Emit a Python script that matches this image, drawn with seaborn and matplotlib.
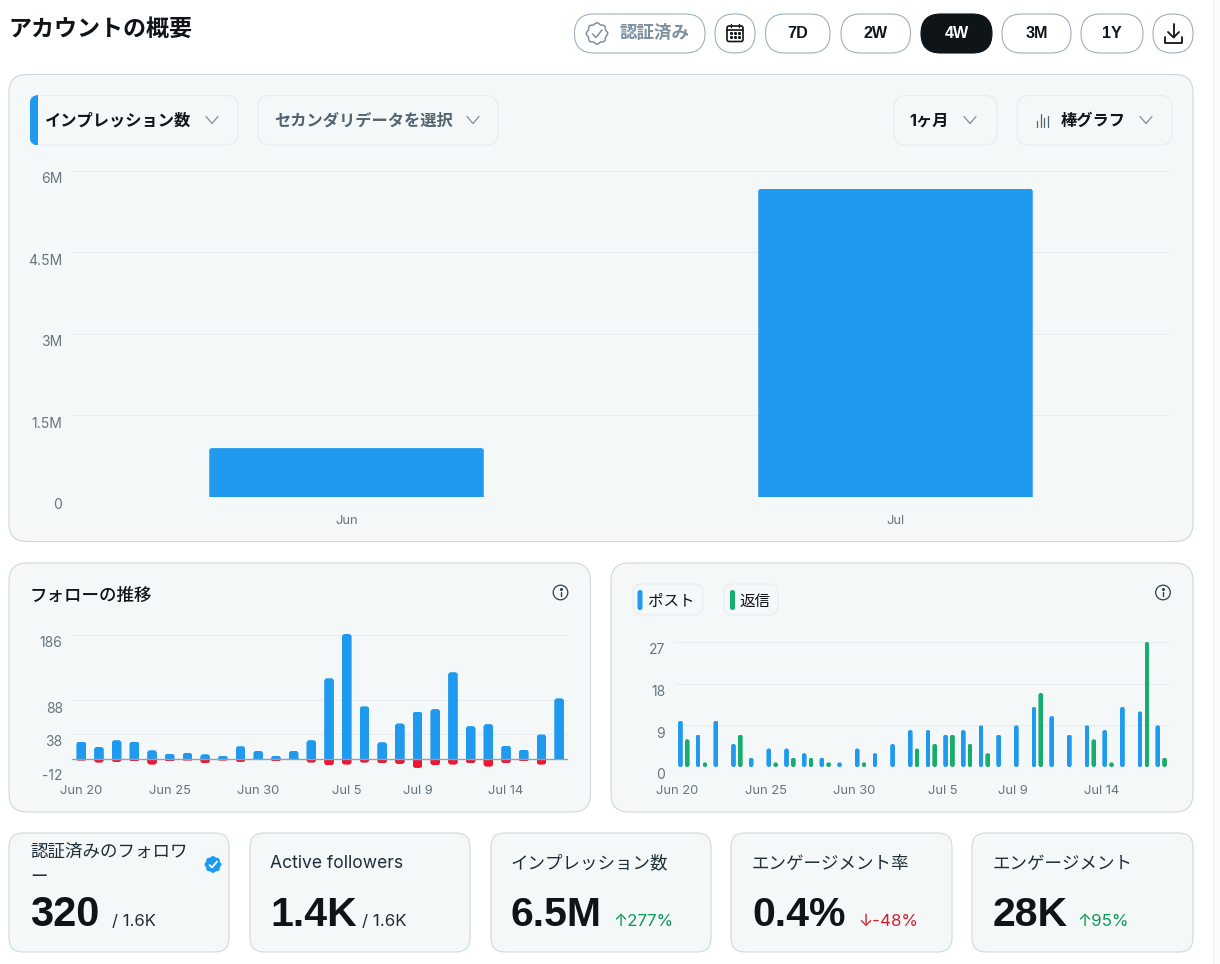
import numpy as np
import pandas as pd
import matplotlib
matplotlib.use("Agg")
import matplotlib.pyplot as plt
from matplotlib.patches import FancyBboxPatch, Circle, Rectangle, Polygon
from matplotlib.path import Path
from matplotlib.transforms import IdentityTransform, ScaledTranslation
import seaborn as sns

# data
months = ["Jun", "Jul"]
impressions = [900000, 5670000]
impression_ticks = [0, 1500000, 3000000, 4500000, 6000000]
impression_labels = ["0", "1.5M", "3M", "4.5M", "6M"]

days = ["Jun 20", "Jun 21", "Jun 22", "Jun 23", "Jun 24", "Jun 25", "Jun 26",
        "Jun 27", "Jun 28", "Jun 29", "Jun 30", "Jul 1", "Jul 2", "Jul 3",
        "Jul 4", "Jul 5", "Jul 6", "Jul 7", "Jul 8", "Jul 9", "Jul 10",
        "Jul 11", "Jul 12", "Jul 13", "Jul 14", "Jul 15", "Jul 16", "Jul 17"]
day_ticks = ["Jun 20", "Jun 25", "Jun 30", "Jul 5", "Jul 9", "Jul 14"]

follows = [26.5, 18.5, 28.5, 26.5, 13.5, 8.5, 9.5, 7.5, 5.5, 19.5, 12.5, 5.5, 12.5, 28.5,
           121, 187, 79, 25.5, 53.5, 71, 75, 130, 49.5, 52.5, 20.5, 14.5, 37, 91]
unfollows = [-2, -5, -4, -3, -8, -3, -2, -6, -2, -4, 0, -3, 0, -5,
             -9, -8, -5, -6, -7, -13, -9, -8, -6, -11, -6, -3, -8, 0]
follow_ticks = [-12, 38, 88, 186]

posts = [10, 7, 10, 5, 2, 4, 4, 3, 2, 1, 4, 3, 5, 8,
         8, 7, 8, 9, 7, 9, 13, 11, 7, 9, 8, 13, 12, 9]
replies = [6, 1, 0, 7, 0, 1, 2, 2, 1, 0, 1, 0, 0, 4,
           5, 7, 5, 3, 0, 0, 16, 0, 0, 6, 1, 0, 27, 2]
post_ticks = [0, 9, 18, 27]

range_buttons = ["7D", "2W", "4W", "3M", "1Y"]
card_titles = ["Active followers", "インプレッション数", "エンゲージメント率", "エンゲージメント"]
card_values = ["1.4K", "6.5M", "0.4%", "28K"]
card_notes = ["/ 1.6K", "↑277%", "↓-48%", "↑95%"]

W, H = 1220, 964
BLUE = "#1f9aef"
GREEN = "#17ad6c"
RED = "#f0162f"
PANEL = "#f5f8f8"
BORDER = "#cfd9de"
SOFT = "#e6ecf0"
INK = "#0f1419"
SLATE = "#536471"
MUTED = "#7b90a0"
TICK = "#66757f"
CJK = ["Inter", "Noto Sans CJK JP", "DejaVu Sans"]
NUM = ["Liberation Sans", "Noto Sans CJK JP", "DejaVu Sans"]

sns.set_theme(style="white")
plt.rcParams["font.family"] = CJK

fig = plt.figure(figsize=(W / 100, H / 100), dpi=100, facecolor="white")
ui = fig.add_axes([0, 0, 1, 1])
ui.set_xlim(0, W)
ui.set_ylim(H, 0)
ui.axis("off")


def box(x0, y0, x1, y1, r, fc=PANEL, ec=BORDER, lw=0.8):
    p = FancyBboxPatch((x0, y0), x1 - x0, y1 - y0, boxstyle=f"round,pad=0,rounding_size={r}",
                       fc=fc, ec=ec, lw=lw)
    ui.add_patch(p)
    return p


def label(x, y, s, size, color=INK, weight="normal", ha="left", family=None):
    ui.text(x, y + 1.5, s, fontsize=size, color=color, fontweight=weight, ha=ha, va="center",
            family=family or CJK)


def chevron(x, y, color="#7f8f9c"):
    ui.plot([x - 6, x, x + 6], [y - 3.5, y + 3.5, y - 3.5], color=color, lw=0.9)


def info(x, y):
    ui.add_patch(Circle((x, y), 7.3, fc="none", ec="#2f3f4d", lw=0.9))
    ui.plot([x, x], [y - 0.5, y + 3.5], color="#2f3f4d", lw=1.0)
    ui.plot([x], [y - 3.2], "o", color="#2f3f4d", ms=1.2)


def chart_axes(x0, y0, x1, y1):
    ax = fig.add_axes([x0 / W, 1 - y1 / H, (x1 - x0) / W, (y1 - y0) / H])
    ax.patch.set_alpha(0)
    return ax


def round_bars(ax, r, both=False):
    # clip the seaborn rectangles so their ends come out rounded
    for bar in ax.patches:
        if not isinstance(bar, Rectangle) or bar.get_height() == 0:
            continue
        x, y = bar.get_xy()
        (x0, y0), (x1, y1) = ax.transData.transform([(x, y), (x + bar.get_width(), y + bar.get_height())])
        s = 1 if y1 > y0 else -1
        rad = min(r, (x1 - x0) / 2, abs(y1 - y0) / (2 if both else 1))
        verts = [(x0, y1 - s * rad), (x0, y1), (x0 + rad, y1), (x1 - rad, y1), (x1, y1), (x1, y1 - s * rad)]
        codes = [Path.MOVETO, Path.CURVE3, Path.CURVE3, Path.LINETO, Path.CURVE3, Path.CURVE3]
        if both:
            verts += [(x1, y0 + s * rad), (x1, y0), (x1 - rad, y0), (x0 + rad, y0), (x0, y0), (x0, y0 + s * rad)]
            codes += [Path.LINETO, Path.CURVE3, Path.CURVE3, Path.LINETO, Path.CURVE3, Path.CURVE3]
        else:
            verts += [(x1, y0), (x0, y0)]
            codes += [Path.LINETO, Path.LINETO]
        verts.append(verts[0])
        codes.append(Path.CLOSEPOLY)
        bar.set_clip_path(Path(verts, codes), IdentityTransform())
        bar.set_clip_box(None)


def style_axis(ax, yticks, ylabels, ysize=10):
    ax.set_yticks(yticks)
    ax.set_yticklabels(ylabels)
    ax.set_xlabel("")
    ax.set_ylabel("")
    ax.grid(axis="y", color=SOFT, lw=0.8)
    ax.grid(axis="x", visible=False)
    ax.set_axisbelow(True)
    ax.tick_params(axis="y", length=0, pad=7, labelsize=ysize, labelcolor=TICK)
    ax.tick_params(axis="x", length=0, pad=13, labelsize=9.3, labelcolor=TICK)
    sns.despine(ax=ax, left=True, bottom=True)
    # tick labels sit just under their grid line
    shift = ScaledTranslation(0, -0.067, fig.dpi_scale_trans)
    for t in ax.get_yticklabels():
        t.set_transform(t.get_transform() + shift)


# scrollbar gutter on the right edge
ui.add_patch(Rectangle((1213, 0), 7, H, fc="#fbfbfb", ec="none"))
ui.plot([1213, 1213], [0, H], color="#f0f0f0", lw=0.7)

# page title and top buttons
label(8, 28, "アカウントの概要", 16.6, weight="bold")

box(574.5, 14, 705, 53, 19.5, fc="white", ec="#9fb0bd")
theta = np.linspace(0, 2 * np.pi, 160)
radius = 10 * (1 + 0.07 * np.cos(8 * theta))
ui.add_patch(Polygon(np.c_[597 + radius * np.cos(theta), 33.5 + radius * np.sin(theta)], fc="none", ec=MUTED, lw=1.1))
ui.plot([592.5, 596, 602], [34, 37.5, 30], color=MUTED, lw=1.1)
label(620, 32, "認証済み", 12.6, color=MUTED, weight="bold")

box(715, 14, 755, 53, 19.5, fc="white", ec="#9fb0bd")
box(727, 26, 743, 41.5, 2, fc="none", ec=INK, lw=1.2)
ui.plot([727, 743], [29.5, 29.5], color=INK, lw=1.2)
ui.plot([731, 731], [24, 27], color=INK, lw=1.0)
ui.plot([739, 739], [24, 27], color=INK, lw=1.0)
for dx in [731, 735, 739]:
    for dy in [33, 37]:
        ui.plot([dx], [dy], "s", color=INK, ms=1.1)

button_edges = [(765.5, 830), (841, 910.5), (921, 992), (1002, 1071), (1081, 1143)]
for name, (b0, b1) in zip(range_buttons, button_edges):
    active = name == "4W"
    box(b0, 14, b1, 53, 19.5, fc=INK if active else "white", ec=INK if active else "#9fb0bd")
    label((b0 + b1) / 2, 32.5, name, 11.6, color="white" if active else INK, weight="bold", ha="center", family=NUM)

box(1153, 14, 1193, 53, 19.5, fc="white", ec="#9fb0bd")
ui.plot([1173.5, 1173.5], [24, 37], color=INK, lw=1.3)
ui.plot([1168, 1173.5, 1179], [32, 37.5, 32], color=INK, lw=1.3)
ui.plot([1165, 1165, 1182, 1182], [37, 43, 43, 37], color=INK, lw=1.3)

# panels
box(9, 74.5, 1193, 541.5, 18)
box(9, 563, 590.5, 812, 18)
box(611, 563, 1193, 812, 18)
card_edges = [(9, 229), (250, 470), (491, 711), (731, 952), (972, 1193)]
for c0, c1 in card_edges:
    box(c0, 833, c1, 952, 14)

# main panel selectors
box(30, 95.5, 238, 145, 12, ec=SOFT)
accent = box(30, 95.5, 60, 145, 9, fc=BLUE, ec=BLUE)
accent.set_clip_path(Rectangle((30, 95), 8, 50, transform=ui.transData))
label(45, 119.5, "インプレッション数", 11.7, weight="bold")
chevron(212, 120)
box(258, 95.5, 498, 145, 12, ec=SOFT)
label(274, 119.5, "セカンダリデータを選択", 11.7, color=SLATE, weight="bold")
chevron(473, 120)
box(894, 95.5, 997, 145, 12, ec=SOFT)
label(909, 119.5, "1ヶ月", 11.7, weight="bold")
chevron(970, 120)
box(1017, 95.5, 1172, 145, 12, ec=SOFT)
for bx, by in zip([1037, 1040.5, 1044, 1047.5], [121, 114, 118, 116]):
    ui.plot([bx, bx], [by, 127], color=SLATE, lw=0.9)
label(1061, 119.5, "棒グラフ", 11.7, weight="bold")
chevron(1146, 120)

# main bar chart
ax1 = chart_axes(72, 171, 1170, 497)
sns.barplot(x=months, y=impressions, color=BLUE, saturation=1, width=0.5, linewidth=0, ax=ax1)
ax1.set_xlim(-0.5, 1.5)
ax1.set_ylim(0, 6000000)
style_axis(ax1, impression_ticks, impression_labels)
round_bars(ax1, 2.5)

# follower chart
label(30, 595, "フォローの推移", 12.6, weight="medium")
info(560.5, 592.5)
ax2 = chart_axes(72.4, 634.7, 568, 767.3)
sns.barplot(x=days, y=follows, color=BLUE, saturation=1, width=0.55, linewidth=0, ax=ax2)
sns.barplot(x=days, y=unfollows, color=RED, saturation=1, width=0.55, linewidth=0, ax=ax2)
ax2.set_xlim(-0.5, 27.5)
ax2.set_ylim(-12, 186)
style_axis(ax2, follow_ticks, [str(v) for v in follow_ticks])
ax2.set_xticks([days.index(d) for d in day_ticks])
ax2.set_xticklabels(day_ticks)
ax2.axhline(0, color="#8ea2b0", lw=1.0, zorder=5)
round_bars(ax2, 3)

# posts and replies chart
box(633, 584, 703, 615, 9, ec=SOFT)
box(637.5, 590, 642.5, 610, 2.5, fc=BLUE, ec=BLUE, lw=0)
label(648, 600, "ポスト", 11.2)
box(724, 584, 778, 615, 9, ec=SOFT)
box(730, 590, 735, 610, 2.5, fc=GREEN, ec=GREEN, lw=0)
label(739, 600, "返信", 11.2)
info(1163, 592.5)

post_df = pd.DataFrame({
    "day": days * 2,
    "count": posts + replies,
    "kind": ["post"] * len(days) + ["reply"] * len(days),
})
ax3 = chart_axes(675, 642, 1170, 767)
sns.barplot(data=post_df, x="day", y="count", hue="kind", palette={"post": BLUE, "reply": GREEN},
            saturation=1, width=0.77, gap=0.3, linewidth=0, legend=False, ax=ax3)
ax3.set_xlim(-0.5, 27.5)
ax3.set_ylim(0, 27)
style_axis(ax3, post_ticks, [str(v) for v in post_ticks])
ax3.set_xticks([days.index(d) - 0.36 for d in day_ticks])
ax3.set_xticklabels(day_ticks)
round_bars(ax3, 2.4, both=True)

# stat cards
label(30, 850.5, "認証済みのフォロワ", 12.6, color="#1f2d38")
label(30, 875.5, "ー", 12.6, color="#1f2d38")
label(30, 913.5, "320", 30, weight="bold", family=NUM)
label(112, 919.5, "/ 1.6K", 12, color="#1f2d38")
theta = np.linspace(0, 2 * np.pi, 120)
radius = 8 * (1 + 0.06 * np.cos(8 * theta))
ui.add_patch(Polygon(np.c_[213 + radius * np.cos(theta), 864.5 + radius * np.sin(theta)], fc=BLUE, ec="none"))
ui.plot([209.5, 212, 217], [865, 867.5, 861.5], color="white", lw=1.3)

title_x = [270, 511, 752, 993]
note_x = [362, 613, 858, 1077]
note_colors = ["#1f2d38", "#0d9a52", "#d0202c", "#0d9a52"]
for tx, nx, title, value, note, nc in zip(title_x, note_x, card_titles, card_values, card_notes, note_colors):
    label(tx, 862.5, title, 12.6, color="#1f2d38")
    label(tx, 913.5, value, 29.5, weight="bold", family=NUM)
    label(nx, 919.5, note, 12.2, color=nc)

fig.savefig("out.png", dpi=100)
